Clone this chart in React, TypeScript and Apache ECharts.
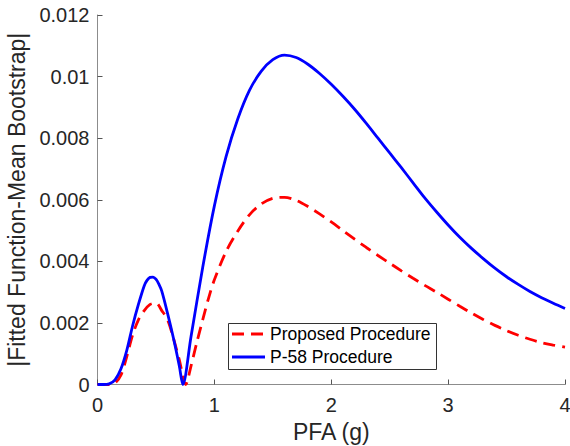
import React, { useEffect, useRef } from "react";
import * as echarts from "echarts";

const xTicks = [0, 1, 2, 3, 4];
const yTicks = [0, 0.002, 0.004, 0.006, 0.008, 0.01, 0.012];

const seriesNames = ["Proposed Procedure", "P-58 Procedure"];

const proposedX = [0, 0.1, 0.15, 0.2, 0.25, 0.3, 0.35, 0.4, 0.45, 0.5, 0.55, 0.6, 0.65, 0.7, 0.755, 0.8, 0.85, 0.9, 0.95, 1.0, 1.1, 1.2, 1.3, 1.4, 1.5, 1.6, 1.7, 1.8, 1.9, 2.0, 2.1, 2.2, 2.3, 2.4, 2.5, 2.6, 2.7, 2.8, 2.9, 3.0, 3.1, 3.2, 3.3, 3.4, 3.5, 3.6, 3.7, 3.8, 3.9, 4.0];
const proposedY = [0, 0, 0.00005, 0.0003, 0.0009, 0.0016, 0.0021, 0.0024, 0.0026, 0.00265, 0.0024, 0.0021, 0.0015, 0.0008, 0, 0.0006, 0.00137, 0.0021, 0.0028, 0.0034, 0.00432, 0.00498, 0.00551, 0.00586, 0.00605, 0.00608, 0.00598, 0.00578, 0.00554, 0.00528, 0.005, 0.00472, 0.00445, 0.00419, 0.00394, 0.00369, 0.00345, 0.00322, 0.003, 0.00277, 0.00254, 0.00232, 0.00211, 0.00192, 0.00175, 0.0016, 0.00147, 0.00136, 0.00128, 0.00121];

const p58X = [0, 0.05, 0.1, 0.15, 0.2, 0.25, 0.3, 0.35, 0.4, 0.425, 0.45, 0.475, 0.5, 0.525, 0.55, 0.6, 0.65, 0.7, 0.73, 0.8, 0.9, 1.0, 1.1, 1.2, 1.3, 1.4, 1.5, 1.6, 1.7, 1.8, 1.9, 2.0, 2.1, 2.2, 2.3, 2.4, 2.5, 2.6, 2.7, 2.8, 2.9, 3.0, 3.1, 3.2, 3.3, 3.4, 3.5, 3.6, 3.7, 3.8, 3.9, 4.0];
const p58Y = [0, 0, 0.00002, 0.00015, 0.0005, 0.0011, 0.0019, 0.0026, 0.00321, 0.00339, 0.00348, 0.00349, 0.00342, 0.00326, 0.00303, 0.0023, 0.0015, 0.0006, 0, 0.00155, 0.0038, 0.0058, 0.0074, 0.00862, 0.00955, 0.01017, 0.01055, 0.0107, 0.01062, 0.0104, 0.0101, 0.00975, 0.00936, 0.00894, 0.00848, 0.008, 0.00752, 0.00704, 0.00655, 0.00606, 0.00561, 0.00518, 0.00478, 0.00442, 0.00409, 0.00378, 0.0035, 0.00325, 0.00302, 0.00282, 0.00264, 0.00247];

const FONT = "'Liberation Sans', Arial, Helvetica, sans-serif";
const TEXT = "#262626";

export default function App() {
  const ref = useRef<HTMLDivElement>(null);
  useEffect(() => {
    if (!ref.current) return;
    const chart = echarts.init(ref.current, undefined, { renderer: "svg" });
    const pairs = (xs: number[], ys: number[]) => xs.map((x, i) => [x, ys[i]]);
    const lgX = 228;
    const lgY = 323;
    chart.setOption({
      animation: false,
      backgroundColor: "#ffffff",
      grid: {
        left: 97.5,
        right: 5,
        top: 15,
        bottom: 61.5,
        containLabel: false,
        outerBoundsMode: "none",
      },
      xAxis: {
        type: "value",
        min: 0,
        max: 4,
        interval: 1,
        name: "PFA (g)",
        nameLocation: "middle",
        nameGap: 36,
        nameTextStyle: { fontFamily: FONT, fontSize: 23, color: TEXT },
        axisLine: { show: true, onZero: false, lineStyle: { color: "#8c8c8c", width: 1 } },
        axisTick: { show: true, inside: true, length: 5, lineStyle: { color: "#555" } },
        axisLabel: {
          fontFamily: FONT,
          fontSize: 20,
          color: TEXT,
          margin: 10,
          formatter: (v: number) => (xTicks.includes(v) ? String(v) : ""),
        },
        splitLine: { show: false },
      },
      yAxis: {
        type: "value",
        min: 0,
        max: 0.012,
        interval: 0.002,
        name: "|Fitted Function-Mean Bootstrap|",
        nameLocation: "middle",
        nameGap: 61,
        nameTextStyle: { fontFamily: FONT, fontSize: 23, color: TEXT },
        axisLine: { show: true, lineStyle: { color: "#8c8c8c", width: 1 } },
        axisTick: { show: true, inside: true, length: 5, lineStyle: { color: "#555" } },
        axisLabel: {
          fontFamily: FONT,
          fontSize: 20,
          color: TEXT,
          margin: 8,
          formatter: (v: number) => {
            const t = yTicks.find((y) => Math.abs(y - v) < 1e-9);
            return t === undefined ? "" : String(parseFloat(t.toFixed(3)));
          },
        },
        splitLine: { show: false },
      },
      graphic: [
        {
          type: "group",
          z: 100,
          children: [
            {
              type: "rect",
              shape: { x: lgX + 0.5, y: lgY + 0.5, width: 208, height: 46 },
              style: { fill: "#ffffff", stroke: "#333333", lineWidth: 1 },
            },
            {
              type: "line",
              shape: { x1: lgX + 4, y1: lgY + 11, x2: lgX + 37, y2: lgY + 11 },
              style: { stroke: "#ff0000", lineWidth: 2.8, lineDash: [12, 7] },
            },
            {
              type: "text",
              x: lgX + 42,
              y: lgY + 11,
              style: {
                text: seriesNames[0],
                fontFamily: FONT,
                fontSize: 17.5,
                fill: "#000000",
                verticalAlign: "middle",
                align: "left",
              },
            },
            {
              type: "line",
              shape: { x1: lgX + 4, y1: lgY + 34, x2: lgX + 37, y2: lgY + 34 },
              style: { stroke: "#0000ff", lineWidth: 2.8 },
            },
            {
              type: "text",
              x: lgX + 42,
              y: lgY + 34,
              style: {
                text: seriesNames[1],
                fontFamily: FONT,
                fontSize: 17.5,
                fill: "#000000",
                verticalAlign: "middle",
                align: "left",
              },
            },
          ],
        },
      ],
      series: [
        {
          name: seriesNames[0],
          type: "line",
          data: pairs(proposedX, proposedY),
          showSymbol: false,
          symbol: "none",
          smooth: 0.3,
          lineStyle: { color: "#ff0000", width: 2.8, type: [12, 7] },
          itemStyle: { color: "#ff0000" },
          z: 2,
        },
        {
          name: seriesNames[1],
          type: "line",
          data: pairs(p58X, p58Y),
          showSymbol: false,
          symbol: "none",
          smooth: 0.3,
          lineStyle: { color: "#0000ff", width: 2.8 },
          itemStyle: { color: "#0000ff" },
          z: 3,
        },
      ],
    });
    return () => chart.dispose();
  }, []);
  return <div ref={ref} style={{ width: 570, height: 446, position: "absolute", left: 0, top: 0 }} />;
}
